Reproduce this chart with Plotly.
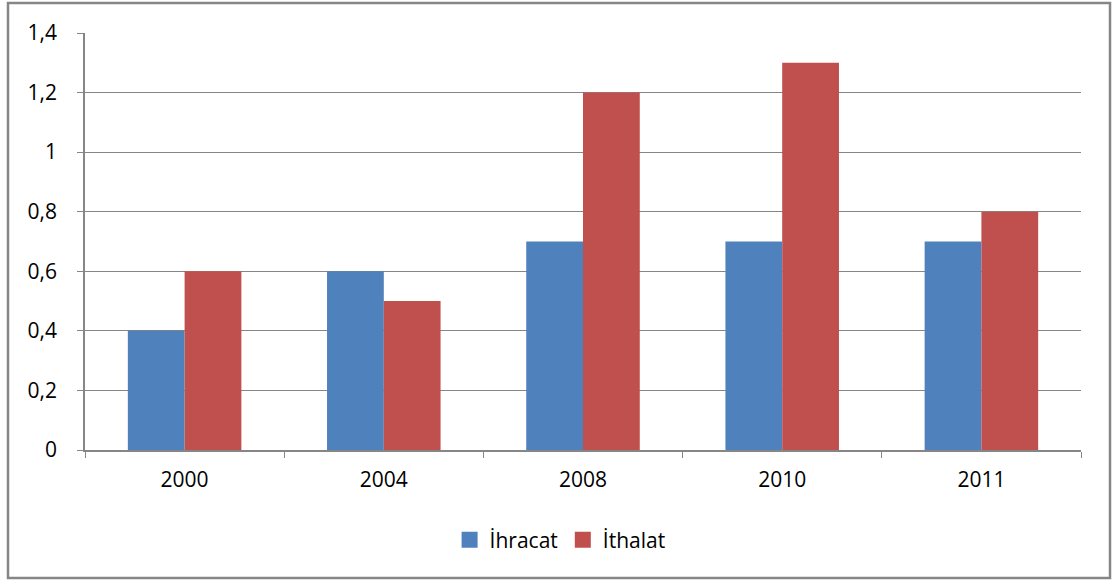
import plotly.graph_objects as go

years = ["2000", "2004", "2008", "2010", "2011"]
ihracat = [0.4, 0.6, 0.7, 0.7, 0.7]
ithalat = [0.6, 0.5, 1.2, 1.3, 0.8]
series_names = ["İhracat", "İthalat"]
colors = ["#4F81BD", "#C0504D"]

font = "Open Sans, Liberation Sans, sans-serif"

fig = go.Figure()
for name, vals, col in zip(series_names, [ihracat, ithalat], colors):
    fig.add_trace(go.Bar(name=name, x=years, y=vals, marker=dict(color=col, line=dict(width=0)),
                         showlegend=False, legendgroup=name))
for name, col in zip(series_names, colors):
    fig.add_trace(go.Scatter(name=name, x=[None], y=[None], mode="markers",
                             marker=dict(symbol="square", size=16, color=col),
                             showlegend=True, legendgroup=name))

def px_x(p):
    return (p - 85) / 996
def px_y(p):
    return (450 - p) / 417

fig.update_layout(
    width=1117, height=583,
    margin=dict(l=85, r=36, t=33, b=133),
    paper_bgcolor="white", plot_bgcolor="white",
    barmode="group", bargap=0.43, bargroupgap=0,
    separators=", ",
    font=dict(family=font, size=21, color="black"),
    showlegend=True,
    legend=dict(orientation="h", x=0.477, xanchor="center", y=px_y(540), yanchor="middle",
                font=dict(size=21), itemwidth=30, traceorder="normal", tracegroupgap=0),
    xaxis=dict(showgrid=False, showline=True, linecolor="#868686", linewidth=1.5,
               ticks="outside", tickson="boundaries", ticklen=6, tickcolor="#868686",
               tickfont=dict(size=21), ticklabelstandoff=10),
    yaxis=dict(range=[0, 1.4], dtick=0.2, showgrid=True, gridcolor="#868686", gridwidth=1,
               showline=True, linecolor="#868686", linewidth=1.5, ticks="outside", ticklen=6,
               tickcolor="#868686", zeroline=False, tickfont=dict(size=21), ticklabelstandoff=16),
    shapes=[dict(type="rect", xref="paper", yref="paper",
                 x0=px_x(8), x1=px_x(1110), y0=px_y(578), y1=px_y(3),
                 line=dict(color="#868686", width=2.5), layer="below")],
)

fig.write_html("out.html", config={"displayModeBar": False},
               post_script="document.body.style.margin='0';document.body.style.overflow='hidden';")
